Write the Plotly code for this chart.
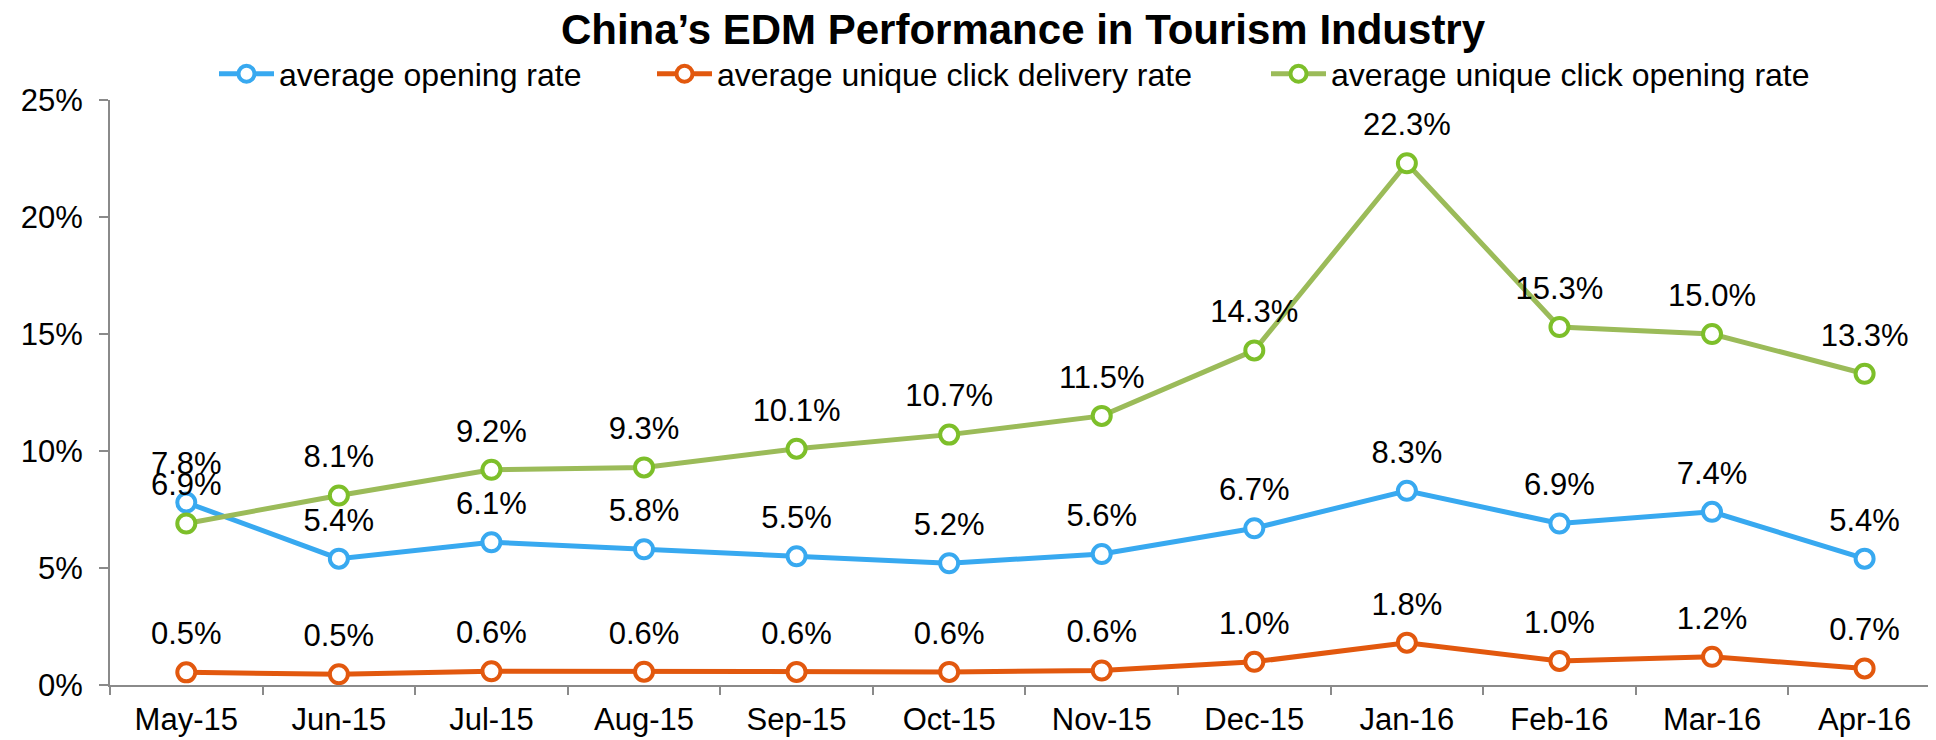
import plotly.graph_objects as go

months = ["May-15", "Jun-15", "Jul-15", "Aug-15", "Sep-15", "Oct-15",
          "Nov-15", "Dec-15", "Jan-16", "Feb-16", "Mar-16", "Apr-16"]

opening_rate = [0.078, 0.054, 0.061, 0.058, 0.055, 0.052,
                0.056, 0.067, 0.083, 0.069, 0.074, 0.054]
click_delivery_rate = [0.0054, 0.0046, 0.0059, 0.0057, 0.0056, 0.0056,
                       0.0062, 0.0099, 0.0181, 0.0103, 0.0121, 0.0071]
click_opening_rate = [0.069, 0.081, 0.092, 0.093, 0.101, 0.107,
                      0.115, 0.143, 0.223, 0.153, 0.150, 0.133]

FONT = "Liberation Sans, Arial, sans-serif"

# the page body adds an 8px margin, so the figure is 8px smaller each way
W, H = 1928, 732

series = [
    ("average opening rate", opening_rate, "#38a9f0", "#38a9f0", "legend"),
    ("average unique click delivery rate", click_delivery_rate, "#e2580e", "#e2580e", "legend2"),
    ("average unique click opening rate", click_opening_rate, "#9bbb59", "#7dbf2a", "legend3"),
]

fig = go.Figure()
for name, vals, line_col, mark_col, leg in series:
    fig.add_trace(go.Scatter(
        x=months, y=vals, name=name, legend=leg, showlegend=True,
        mode="lines+markers",
        line=dict(color=line_col, width=5),
        marker=dict(symbol="circle", size=18, color="white",
                    line=dict(color=mark_col, width=4)),
        cliponaxis=False,
    ))

# value labels: invisible wider markers push the text a bit higher
for name, vals, line_col, mark_col, leg in series:
    fig.add_trace(go.Scatter(
        x=months, y=vals, showlegend=False, hoverinfo="skip",
        mode="markers+text",
        marker=dict(size=31, color="rgba(0,0,0,0)"),
        texttemplate="%{y:.1%}", textposition="top center",
        textfont=dict(family=FONT, size=31, color="black"),
        cliponaxis=False,
    ))

leg_common = dict(orientation="h", xref="container", yref="container",
                  yanchor="middle", xanchor="left", itemwidth=55,
                  font=dict(family=FONT, size=32, color="black"),
                  bgcolor="rgba(0,0,0,0)")

fig.update_layout(
    width=W, height=H,
    margin=dict(l=102, r=0, t=92, b=55, autoexpand=False),
    plot_bgcolor="white", paper_bgcolor="white",
    showlegend=True,
    font=dict(family=FONT, size=30, color="black"),
    title=dict(text="<b>China’s EDM Performance in Tourism Industry</b>",
               font=dict(family=FONT, size=42, color="black"),
               x=0.5, xref="paper", xanchor="center",
               y=1 - 21 / H, yref="container", yanchor="middle"),
    legend=dict(x=206 / W, y=1 - 66 / H, **leg_common),
    legend2=dict(x=644 / W, y=1 - 66 / H, **leg_common),
    legend3=dict(x=1258 / W, y=1 - 66 / H, **leg_common),
    xaxis=dict(range=[-0.5, 11.468], showline=True, linecolor="#8a8a8a",
               linewidth=2, ticks="outside", tickson="boundaries",
               ticklen=8, tickwidth=2, tickcolor="#8a8a8a",
               showgrid=False, ticklabelstandoff=6, automargin=False,
               tickfont=dict(family=FONT, size=31, color="black")),
    yaxis=dict(range=[0, 0.25], dtick=0.05, tickformat=".0%",
               showline=True, linecolor="#8a8a8a", linewidth=2,
               ticks="outside", ticklen=9, tickwidth=2, tickcolor="#8a8a8a",
               showgrid=False, zeroline=False, ticklabelstandoff=10,
               automargin=False,
               tickfont=dict(family=FONT, size=31, color="black")),
)

fig.write_html("out.html")
